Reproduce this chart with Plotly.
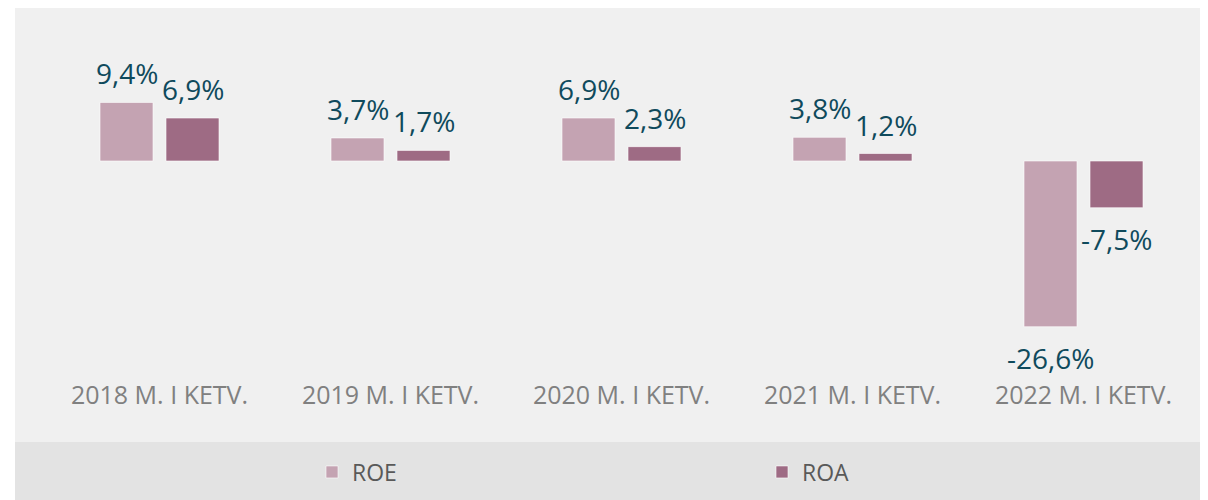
import plotly.graph_objects as go

categories = ["2018 M. I KETV.", "2019 M. I KETV.", "2020 M. I KETV.", "2021 M. I KETV.", "2022 M. I KETV."]
roe = [9.4, 3.7, 6.9, 3.8, -26.6]
roa = [6.9, 1.7, 2.3, 1.2, -7.5]

ROE_COLOR = "#c4a3b2"
ROA_COLOR = "#9e6b84"
LABEL_COLOR = "#0f4a5c"
FONT = "Open Sans"

W, H = 1200, 492

fig = go.Figure()
series = [("ROE", roe, ROE_COLOR, "legend", -33), ("ROA", roa, ROA_COLOR, "legend2", 33)]
for name, vals, col, leg, _ in series:
    fig.add_trace(go.Bar(
        name=name, x=categories, y=vals, legend=leg,
        marker=dict(color=col, line=dict(color="rgba(255,255,255,0.6)", width=1)),
        cliponaxis=False,
    ))

annotations = []
for name, vals, col, leg, dx in series:
    for c, v in zip(categories, vals):
        annotations.append(dict(
            x=c, y=v, xref="x", yref="y", showarrow=False,
            text=f"{v:.1f}%".replace(".", ","),
            xshift=dx, yshift=8 if v >= 0 else -10,
            yanchor="bottom" if v >= 0 else "top",
            font=dict(family=FONT, size=28, color=LABEL_COLOR),
        ))

legend_style = dict(orientation="h", xref="container", yref="container",
                    xanchor="left", yanchor="middle",
                    font=dict(family=FONT, size=23, color="#595959"),
                    bgcolor="rgba(0,0,0,0)")

fig.update_layout(
    width=W, height=H,
    barmode="group", bargap=0.4286, bargroupgap=0.197,
    paper_bgcolor="white", plot_bgcolor="rgba(0,0,0,0)",
    margin=dict(l=36, r=9, t=12, b=122, autoexpand=False),
    font=dict(family=FONT),
    xaxis=dict(showgrid=False, showline=False, zeroline=False, ticks="",
               tickfont=dict(family=FONT, size=25, color="#808080")),
    yaxis=dict(range=[-34.83, 22.63], visible=False, zeroline=False, showgrid=False),
    showlegend=True,
    legend=dict(x=304 / W, y=1 - 464 / H, **legend_style),
    legend2=dict(x=754 / W, y=1 - 464 / H, **legend_style),
    annotations=annotations,
    shapes=[
        dict(type="rect", xref="paper", yref="paper", layer="below",
             x0=-29/1155, x1=1170/1155, y0=-64/358, y1=(358 + 13)/358,
             fillcolor="#f0f0f0", line=dict(width=0)),
        dict(type="rect", xref="paper", yref="paper", layer="below",
             x0=-29/1155, x1=1170/1155, y0=-130/358, y1=-64/358,
             fillcolor="#e3e3e3", line=dict(width=0)),
    ],
)

fig.write_html("out.html")
